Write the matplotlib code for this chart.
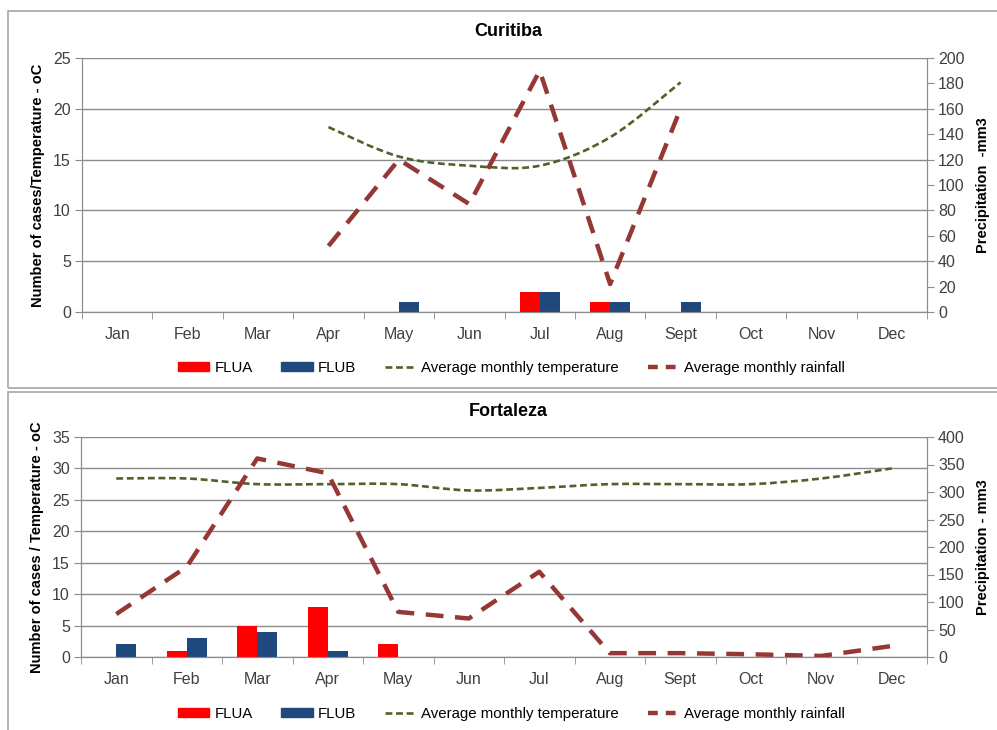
import matplotlib.pyplot as plt
import numpy as np
from matplotlib.path import Path
from matplotlib.patches import PathPatch, Rectangle, Patch
from matplotlib.lines import Line2D

plt.rcParams['font.family'] = ['Liberation Sans', 'DejaVu Sans']

# ---------------- data ----------------
months = ['Jan', 'Feb', 'Mar', 'Apr', 'May', 'Jun', 'Jul', 'Aug', 'Sept', 'Oct', 'Nov', 'Dec']

# Curitiba
cur_flua = [0, 0, 0, 0, 0, 0, 2, 1, 0, 0, 0, 0]
cur_flub = [0, 0, 0, 0, 1, 0, 2, 1, 1, 0, 0, 0]
cur_temp = [None, None, None, 18.2, 15.3, 14.4, 14.4, 17.2, 22.6, None, None, None]
cur_rain = [None, None, None, 52, 120, 85, 190, 22, 160, None, None, None]

# Fortaleza
for_flua = [0, 1, 5, 8, 2, 0, 0, 0, 0, 0, 0, 0]
for_flub = [2, 3, 4, 1, 0, 0, 0, 0, 0, 0, 0, 0]
for_temp = [28.4, 28.4, 27.5, 27.5, 27.5, 26.5, 26.9, 27.5, 27.5, 27.5, 28.4, 30.0]
for_rain = [78, 164, 361, 334, 82, 70, 155, 7, 7, 5, 2, 20]

# ---------------- style ----------------
C_FLUA = '#FF0000'
C_FLUB = '#1F497D'
C_TEMP = '#4F6228'
C_RAIN = '#953735'
C_GRID = '#8C8C8C'
C_TXT = '#404040'
FS = 11.5
TEMP_LS = (0, (2.6, 1.4))
RAIN_LS = (0, (4, 2.6))


def smooth_path(xs, ys):
    # Excel-style smoothed line: cubic Bezier through the points
    pts = [(x, y) for x, y in zip(xs, ys) if y is not None]
    p = np.array(pts, dtype=float)
    verts = [p[0]]
    codes = [Path.MOVETO]
    n = len(p)
    for i in range(n - 1):
        p0 = p[i - 1] if i > 0 else p[i]
        p3 = p[i + 2] if i + 2 < n else p[i + 1]
        c1 = p[i] + (p[i + 1] - p0) / 6.0
        c2 = p[i + 1] - (p3 - p[i]) / 6.0
        verts += [c1, c2, p[i + 1]]
        codes += [Path.CURVE4] * 3
    return Path(verts, codes)


def draw_panel(rect, title, flua, flub, temp, rain, ymax, rmax, rstep,
               ylabel, rlabel, title_y, legend_y):
    ax = fig.add_axes(rect)
    ax2 = ax.twinx()
    x = np.arange(len(months))
    w = 0.286
    ax.bar(x - w / 2, flua, w, color=C_FLUA, zorder=3)
    ax.bar(x + w / 2, flub, w, color=C_FLUB, zorder=3)

    # temperature (left axis), smoothed
    tp = smooth_path(x, temp)
    ax.add_patch(PathPatch(tp, fill=False, edgecolor=C_TEMP, lw=1.9,
                           linestyle=TEMP_LS, zorder=4))

    # rainfall (right axis)
    ry = np.array([np.nan if v is None else v for v in rain], dtype=float)
    ax2.plot(x, ry, color=C_RAIN, lw=3.2, linestyle=RAIN_LS, zorder=4)

    ax.set_xlim(-0.5, 11.5)
    ax.set_ylim(0, ymax)
    ax.set_yticks(np.arange(0, ymax + 1, 5))
    ax2.set_ylim(0, rmax)
    ax2.set_yticks(np.arange(0, rmax + 1, rstep))
    ax.set_xticks(x)
    ax.set_xticklabels(months)
    ax.set_xticks(np.arange(-0.5, 12, 1), minor=True)
    ax.tick_params(axis='x', which='major', length=0, pad=11, labelsize=FS, labelcolor=C_TXT)
    ax.tick_params(axis='x', which='minor', length=5, color=C_GRID, direction='out')
    ax.tick_params(axis='y', length=5, color=C_GRID, labelsize=FS, labelcolor=C_TXT, pad=3)
    ax2.tick_params(axis='y', length=5, color=C_GRID, labelsize=FS, labelcolor=C_TXT, pad=3)

    ax.yaxis.grid(True, color=C_GRID, lw=1)
    ax.set_axisbelow(True)
    for a in (ax, ax2):
        a.spines['top'].set_visible(False)
        for s in ('left', 'right', 'bottom'):
            a.spines[s].set_color(C_GRID)
    ax2.set_zorder(ax.get_zorder() + 1)
    ax2.patch.set_visible(False)

    ax.set_ylabel(ylabel, fontsize=10.5, fontweight='bold', labelpad=6)
    ax2.set_ylabel(rlabel, fontsize=10.5, fontweight='bold', labelpad=8)
    fig.text(0.51, title_y, title, ha='center', va='center', fontsize=13, fontweight='bold')

    handles = [Patch(color=C_FLUA), Patch(color=C_FLUB),
               Line2D([], [], color=C_TEMP, lw=1.9, linestyle=TEMP_LS),
               Line2D([], [], color=C_RAIN, lw=3.2, linestyle=(0, (2.2, 1.8)))]
    labels = ['FLUA', 'FLUB', 'Average monthly temperature', 'Average monthly rainfall']
    fig.legend(handles, labels, loc='center', bbox_to_anchor=(0.513, legend_y), ncol=4,
               frameon=False, fontsize=10.8, handlelength=2.1, handleheight=0.5,
               columnspacing=1.9, handletextpad=0.35)
    return ax


fig = plt.figure(figsize=(9.97, 7.30), dpi=100)

# panel frames
fig.patches.append(Rectangle((8 / 997, 1 - 388 / 730), 1.2, 377 / 730, transform=fig.transFigure,
                             fill=False, edgecolor='#A6A6A6', lw=1.2))
fig.patches.append(Rectangle((8 / 997, -0.1), 1.2, 0.1 + 338 / 730, transform=fig.transFigure,
                             fill=False, edgecolor='#A6A6A6', lw=1.2))

draw_panel([82 / 997, 1 - 312 / 730, 845 / 997, 254 / 730], 'Curitiba',
           cur_flua, cur_flub, cur_temp, cur_rain, 25, 200, 20,
           'Number of cases/Temperature - oC', 'Precipitation  -mm3',
           1 - 31 / 730, 1 - 368 / 730)
draw_panel([81 / 997, 1 - 657 / 730, 846 / 997, 220 / 730], 'Fortaleza',
           for_flua, for_flub, for_temp, for_rain, 35, 400, 50,
           'Number of cases / Temperature - oC', 'Precipitation - mm3',
           1 - 411 / 730, 1 - 714 / 730)

plt.savefig('out.png', dpi=100)
